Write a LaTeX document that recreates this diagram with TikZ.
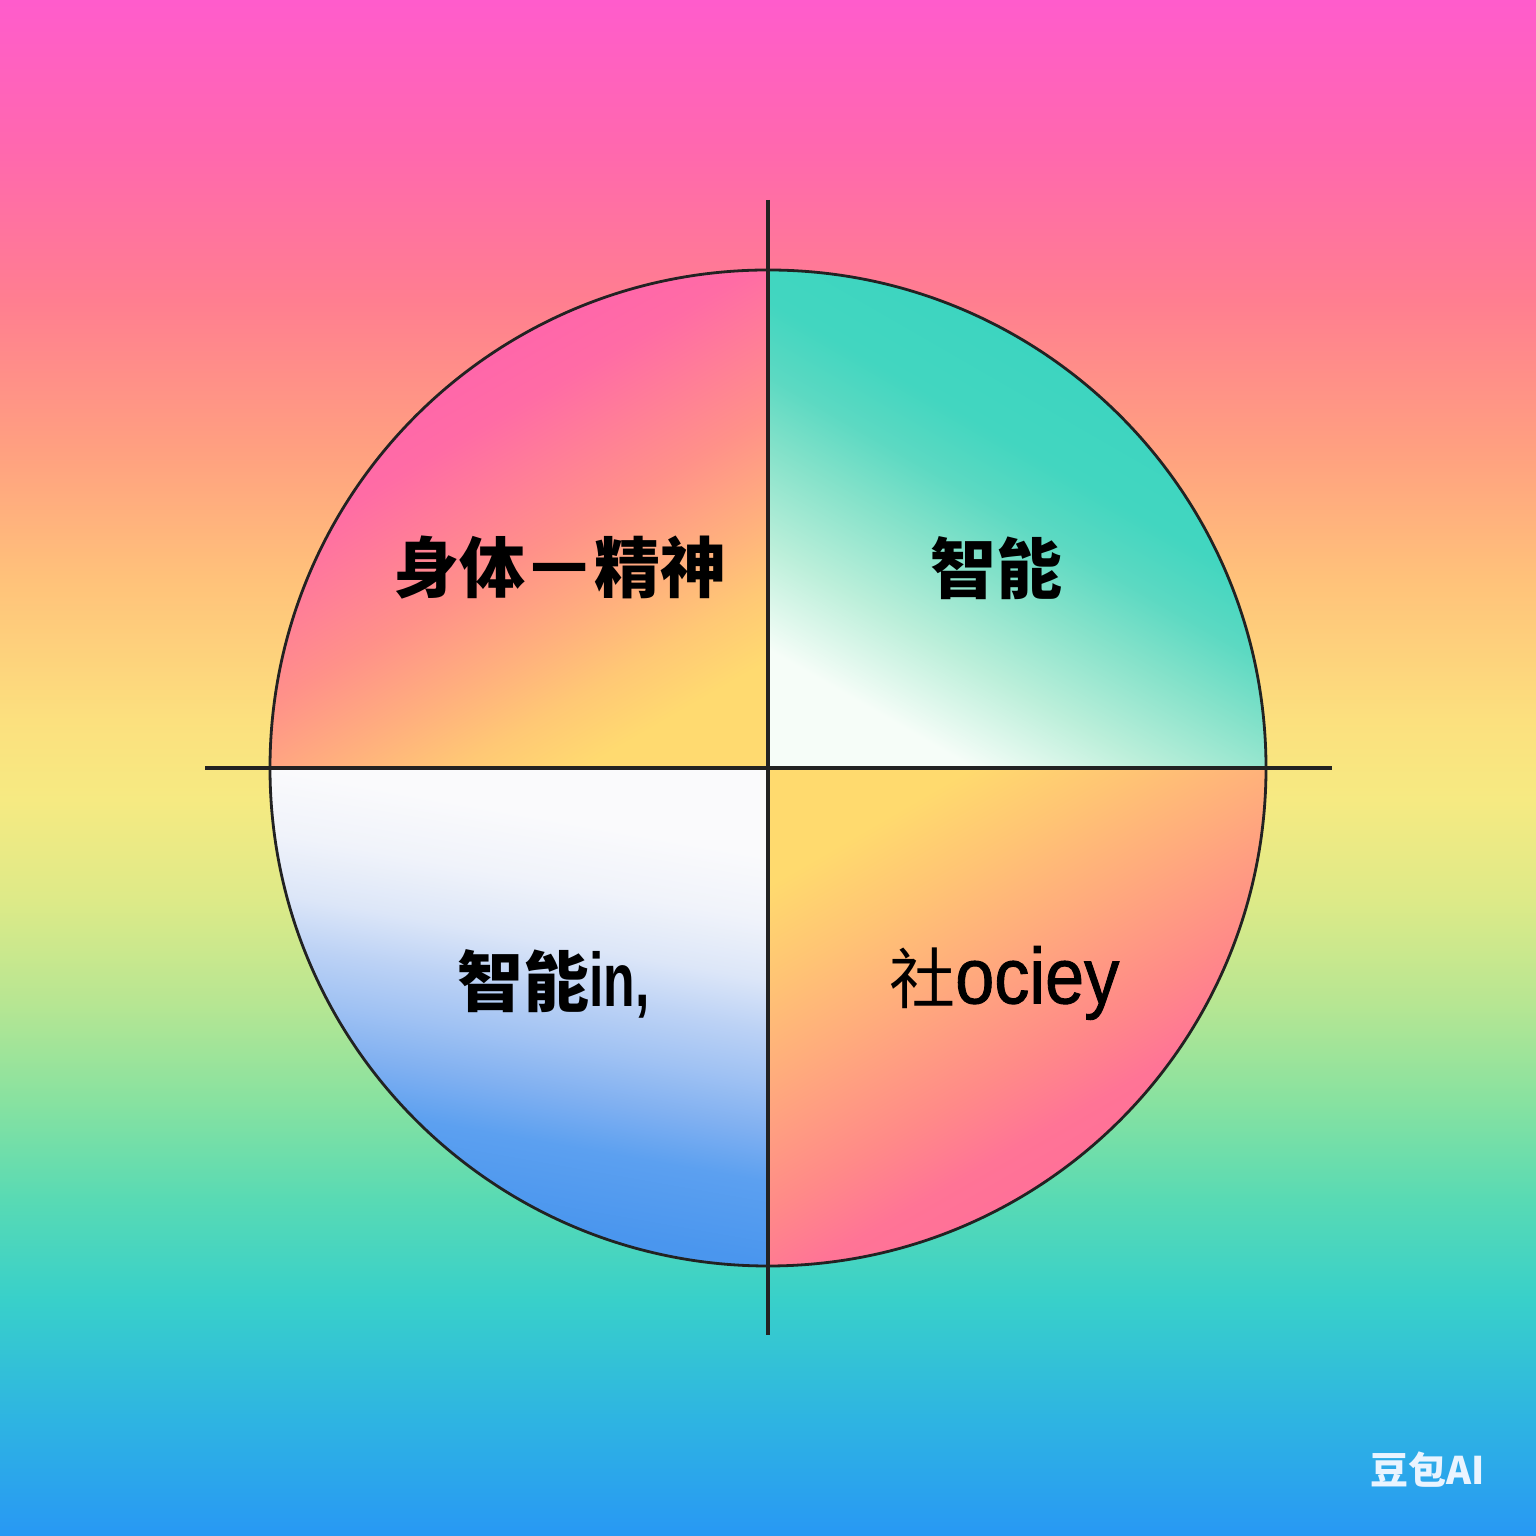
\documentclass[tikz,border=0pt]{standalone}
\usepackage{fontspec}
\newfontfamily\cjk{Noto Sans CJK SC}
\newfontfamily\lat{Liberation Sans}
\newfontfamily\latm{Liberation Sans}[FakeBold=1.2]
% background colours (bottom to top)
\definecolor{bgA}{HTML}{2898F4}
\definecolor{bgB}{HTML}{2EB4E2}
\definecolor{bgC}{HTML}{38D0CA}
\definecolor{bgD}{HTML}{58DAB4}
\definecolor{bgE}{HTML}{88E2A0}
\definecolor{bgF}{HTML}{B8E692}
\definecolor{bgG}{HTML}{DDEA88}
\definecolor{bgH}{HTML}{F6EA82}
\definecolor{bgI}{HTML}{FCE07E}
\definecolor{bgJ}{HTML}{FFC27A}
\definecolor{bgK}{HTML}{FFA080}
\definecolor{bgL}{HTML}{FF7E90}
\definecolor{bgM}{HTML}{FF68AE}
\definecolor{bgN}{HTML}{FF5CCC}
% top-left quadrant
\definecolor{tlA}{HTML}{FF5EB2}
\definecolor{tlB}{HTML}{FF6CA5}
\definecolor{tlC}{HTML}{FF9189}
\definecolor{tlD}{HTML}{FFAE7E}
\definecolor{tlE}{HTML}{FFC875}
\definecolor{tlF}{HTML}{FFDA70}
% top-right quadrant
\definecolor{trA}{HTML}{F6FDF8}
\definecolor{trB}{HTML}{BCEFDA}
\definecolor{trC}{HTML}{86E2CA}
\definecolor{trD}{HTML}{5CD9C2}
\definecolor{trE}{HTML}{42D6C0}
\definecolor{trF}{HTML}{38D4C0}
% bottom-left quadrant
\definecolor{blA}{HTML}{FAFAFC}
\definecolor{blB}{HTML}{F0F3FA}
\definecolor{blC}{HTML}{DCE6F8}
\definecolor{blD}{HTML}{BCD2F5}
\definecolor{blE}{HTML}{A0C2F3}
\definecolor{blF}{HTML}{80B0F1}
\definecolor{blG}{HTML}{5CA0F0}
\definecolor{blH}{HTML}{4A96EE}
% bottom-right quadrant
\definecolor{brA}{HTML}{FFDA6E}
\definecolor{brB}{HTML}{FFC474}
\definecolor{brC}{HTML}{FFAC7C}
\definecolor{brD}{HTML}{FF8A88}
\definecolor{brE}{HTML}{FF7496}
\definecolor{brF}{HTML}{FF6A9C}
\definecolor{linecol}{HTML}{222222}
\definecolor{markcol}{HTML}{EAF4FF}

\pgfdeclareverticalshading{bgshade}{100bp}{color(0bp)=(bgA); color(25bp)=(bgA);
 color(28.78bp)=(bgB); color(32.68bp)=(bgC); color(35.94bp)=(bgD); color(39.19bp)=(bgE);
 color(42.45bp)=(bgF); color(45.7bp)=(bgG); color(48.96bp)=(bgH); color(51.56bp)=(bgI);
 color(56.12bp)=(bgJ); color(60.35bp)=(bgK); color(65.23bp)=(bgL); color(70.12bp)=(bgM);
 color(75bp)=(bgN); color(100bp)=(bgN)}
\pgfdeclarehorizontalshading{qtl}{100bp}{color(0bp)=(tlA); color(25bp)=(tlA);
 color(40bp)=(tlB); color(53.5bp)=(tlC); color(61.5bp)=(tlD); color(68.5bp)=(tlE);
 color(75bp)=(tlF); color(100bp)=(tlF)}
\pgfdeclarehorizontalshading{qtr}{100bp}{color(0bp)=(trA); color(26bp)=(trA);
 color(35bp)=(trB); color(43.5bp)=(trC); color(50bp)=(trD); color(56.5bp)=(trE);
 color(75bp)=(trF); color(100bp)=(trF)}
\pgfdeclarehorizontalshading{qbl}{100bp}{color(0bp)=(blA); color(29.6bp)=(blA);
 color(36bp)=(blB); color(42bp)=(blC); color(47bp)=(blD); color(52bp)=(blE);
 color(57bp)=(blF); color(62bp)=(blG); color(70bp)=(blH); color(100bp)=(blH)}
\pgfdeclarehorizontalshading{qbr}{100bp}{color(0bp)=(brA); color(25.9bp)=(brA);
 color(34.4bp)=(brB); color(42.9bp)=(brC); color(54.3bp)=(brD); color(61.4bp)=(brE);
 color(74.2bp)=(brF); color(100bp)=(brF)}

\begin{document}
\begin{tikzpicture}[x=1pt,y=1pt,
  axisline/.style={draw=linecol, line width=3.2pt},
  ringline/.style={draw=linecol, line width=2.8pt},
  bigcjk/.style={font=\cjk\bfseries\fontsize{66}{70}\selectfont, text=black, inner sep=0pt, anchor=center},
  regcjk/.style={font=\cjk\fontsize{66}{70}\selectfont, text=black, inner sep=0pt, anchor=center},
  markstyle/.style={font=\cjk\bfseries\fontsize{38}{40}\selectfont, text=markcol, inner sep=0pt, anchor=center}]
\useasboundingbox (0,0) rectangle (1536,1536);
\shade[shading=bgshade] (0,0) rectangle (1536,1536);

\coordinate (c) at (768,768);
% quadrants
\shade[shading=qtl, shading angle=-60] (c) -- (270,768) arc[start angle=180, end angle=90, radius=498] -- cycle;
\shade[shading=qtr, shading angle=60] (c) -- (1266,768) arc[start angle=0, end angle=90, radius=498] -- cycle;
\shade[shading=qbl, shading angle=-100] (c) -- (270,768) arc[start angle=180, end angle=270, radius=498] -- cycle;
\shade[shading=qbr, shading angle=-60] (c) -- (1266,768) arc[start angle=0, end angle=-90, radius=498] -- cycle;

\draw[ringline] (c) circle[radius=498];

\coordinate (vtop) at (768,1336);
\coordinate (vbot) at (768,201);
\coordinate (hleft) at (205,768);
\coordinate (hright) at (1332,768);
\draw[axisline] (vtop) -- (vbot);
\draw[axisline] (hleft) -- (hright);

\node[bigcjk] (t1) at (560,968) {身体\hspace{6pt}\raisebox{5pt}{\scalebox{0.85}[0.78]{一}}\hspace{6pt}精神};
\node[bigcjk] (t2) at (996,968) {智能};
\node[bigcjk, anchor=west] (t3) at (457,552) {智能\scalebox{0.68}[1]{\lat\bfseries\fontsize{76}{80}\selectfont in,}};
\node[regcjk, anchor=west] (t4) at (889,553) {社\scalebox{0.89}[1]{\latm\fontsize{79}{84}\selectfont ociey}};
\node[markstyle] (wm) at (1428,66) {豆包AI};
\end{tikzpicture}
\end{document}
